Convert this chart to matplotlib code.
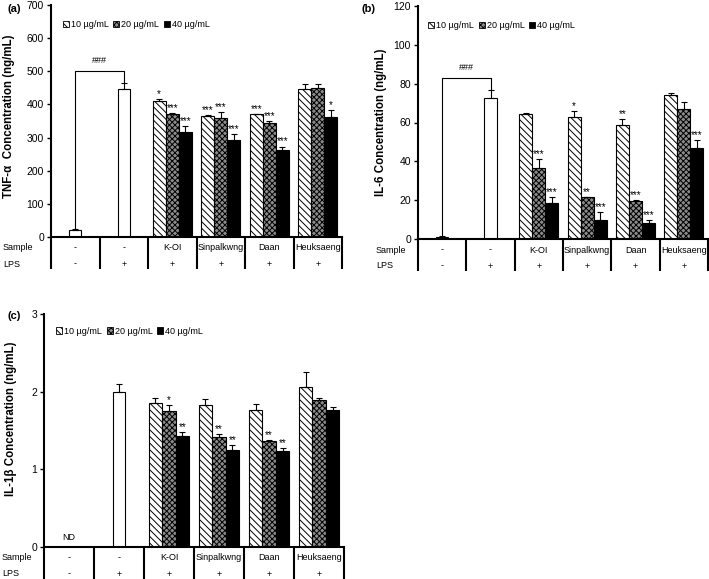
import numpy as np
import matplotlib.pyplot as plt
import matplotlib.transforms as mtransforms
from matplotlib.patches import Patch

plt.rcParams['font.family'] = ['Liberation Sans', 'DejaVu Sans']
plt.rcParams['hatch.linewidth'] = 0.7

# ---- data ----
samples = ['-', '-', 'K-OI', 'Sinpalkwng', 'Daan', 'Heuksaeng']
lps = ['-', '+', '+', '+', '+', '+']
conc_labels = ['10 µg/mL', '20 µg/mL', '40 µg/mL']

# (a) TNF-a : control, LPS only
tnf_ctrl = [20, 448]
tnf_ctrl_err = [5, 16]
tnf_10 = [410, 364, 370, 447]
tnf_10_err = [5, 3, 2, 15]
tnf_20 = [370, 358, 345, 451]
tnf_20_err = [3, 18, 6, 11]
tnf_40 = [318, 294, 264, 362]
tnf_40_err = [18, 16, 9, 22]
tnf_sig_10 = ['*', '***', '***', '']
tnf_sig_20 = ['***', '***', '***', '']
tnf_sig_40 = ['***', '***', '***', '*']

# (b) IL-6
il6_ctrl = [1.2, 72.5]
il6_ctrl_err = [0.4, 4]
il6_10 = [64.4, 62.9, 58.8, 74.4]
il6_10_err = [0.7, 3, 3, 1]
il6_20 = [36.8, 21.5, 19.8, 66.9]
il6_20_err = [4.4, 0, 0.5, 3.6]
il6_40 = [18.6, 10, 8.2, 47.1]
il6_40_err = [3.2, 3.7, 1.4, 3.9]
il6_sig_10 = ['', '*', '**', '']
il6_sig_20 = ['***', '**', '***', '']
il6_sig_40 = ['***', '***', '***', '***']

# (c) IL-1b (control not detected)
il1b_ctrl = [np.nan, 1.99]
il1b_ctrl_err = [0, 0.11]
il1b_10 = [1.86, 1.83, 1.77, 2.06]
il1b_10_err = [0.06, 0.07, 0.07, 0.19]
il1b_20 = [1.75, 1.41, 1.36, 1.89]
il1b_20_err = [0.08, 0.05, 0.02, 0.03]
il1b_40 = [1.43, 1.25, 1.23, 1.77]
il1b_40_err = [0.05, 0.06, 0.04, 0.03]
il1b_sig_10 = ['', '', '', '']
il1b_sig_20 = ['*', '**', '**', '']
il1b_sig_40 = ['**', '**', '**', '']

W, H = 709, 579
fig = plt.figure(figsize=(W / 100, H / 100), dpi=100)

styles = [dict(facecolor='white', hatch='\\\\\\\\\\'),
          dict(facecolor='#8c8c8c', hatch='xxxxxx'),
          dict(facecolor='black', hatch=None)]


def add_ax(left, top, right, bottom):
    return fig.add_axes([left / W, 1 - bottom / H, (right - left) / W, (bottom - top) / H])


def panel(ax, hpx, wpx, ctrl, ctrl_err, vals, errs, sigs, ymax, ystep, ylabel,
          ylab_dx, ylab_y=0.5, bracket=None, leg_xy=(0.04, 0.93)):
    ekw = dict(elinewidth=0.8, capthick=0.8, ecolor='k')
    xc = np.array([0.5, 1.5])
    ctrl = np.array(ctrl, dtype=float)
    ok = ~np.isnan(ctrl)
    ax.bar(xc[ok], ctrl[ok], 0.25, color='white', edgecolor='k', lw=0.8,
           yerr=[np.zeros(ok.sum()), np.array(ctrl_err)[ok]], capsize=2, error_kw=ekw)
    w = 0.27
    xs = np.arange(2, 6) + 0.5
    for k in range(3):
        xp = xs + (k - 1) * w
        ax.bar(xp, vals[k], w, edgecolor='k', lw=0.8,
               yerr=[np.zeros(4), errs[k]], capsize=2, error_kw=ekw, **styles[k])
        for x, v, e, s in zip(xp, vals[k], errs[k], sigs[k]):
            if s:
                ax.text(x, v + e, s, ha='center', va='bottom', fontsize=7)
    if bracket is not None:
        ax.plot([0.5, 0.5, 1.5, 1.5],
                [ctrl[0] + ctrl_err[0], bracket, bracket, ctrl[1] + ctrl_err[1]],
                color='k', lw=0.8)
        ax.text(1.0, bracket + ymax * 0.025, '###', ha='center', va='bottom', fontsize=6.5)

    ax.set_xlim(0, 6)
    ax.set_ylim(0, ymax)
    ax.set_xticks([])
    ax.set_yticks(np.arange(0, ymax + ystep / 2, ystep))
    ax.tick_params(axis='y', direction='out', length=3, width=1, labelsize=7.5, pad=2)
    for s in ['top', 'right']:
        ax.spines[s].set_visible(False)
    for s in ['left', 'bottom']:
        ax.spines[s].set_linewidth(1.5)
    ax.set_ylabel(ylabel, fontweight='bold', fontsize=8.3)
    ax.yaxis.set_label_coords(-ylab_dx / wpx, ylab_y)

    # table under the axis
    tr = mtransforms.blended_transform_factory(ax.transData, ax.transAxes)
    for i in range(7):
        ax.plot([i, i], [0, -32 / hpx], transform=tr, clip_on=False, color='k',
                lw=1.5, solid_capstyle='butt')
    for i, (s, l) in enumerate(zip(samples, lps)):
        ax.text(i + 0.5, -11 / hpx, s, transform=tr, ha='center', va='center', fontsize=6.5)
        ax.text(i + 0.5, -27 / hpx, l, transform=tr, ha='center', va='center', fontsize=6.5)
    if np.isnan(ctrl[0]):
        ax.text(0.5, 9 / hpx, 'ND', transform=tr, ha='center', va='center', fontsize=6.5)

    handles = [Patch(edgecolor='k', lw=0.6, **st) for st in styles]
    ax.legend(handles, conc_labels, ncol=3, frameon=False, loc='upper left',
              bbox_to_anchor=leg_xy, fontsize=6.5, handlelength=0.7, handleheight=0.7,
              handletextpad=0.2, columnspacing=0.5, borderaxespad=0, borderpad=0)


# (a)
ax1 = add_ax(51, 5, 342, 237)
panel(ax1, 232, 291, tnf_ctrl, tnf_ctrl_err, [tnf_10, tnf_20, tnf_40],
      [tnf_10_err, tnf_20_err, tnf_40_err], [tnf_sig_10, tnf_sig_20, tnf_sig_40],
      700, 100, 'TNF-α  Concentration (ng/mL)', 36, ylab_y=0.52, bracket=500,
      leg_xy=(0.04, 0.935))
# (b)
ax2 = add_ax(418, 6, 708, 239)
panel(ax2, 233, 290, il6_ctrl, il6_ctrl_err, [il6_10, il6_20, il6_40],
      [il6_10_err, il6_20_err, il6_40_err], [il6_sig_10, il6_sig_20, il6_sig_40],
      120, 20, 'IL-6 Concentration (ng/mL)', 31, ylab_y=0.5, bracket=83,
      leg_xy=(0.035, 0.935))
# (c)
ax3 = add_ax(44, 314, 344, 547)
panel(ax3, 233, 300, il1b_ctrl, il1b_ctrl_err, [il1b_10, il1b_20, il1b_40],
      [il1b_10_err, il1b_20_err, il1b_40_err], [il1b_sig_10, il1b_sig_20, il1b_sig_40],
      3, 1, 'IL-1β Concentration (ng/mL)', 27, ylab_y=0.55, leg_xy=(0.04, 0.945))

# panel letters and table row labels
for lab, x, y in [('(a)', 8, 9), ('(b)', 362, 9), ('(c)', 7, 316)]:
    fig.text(x / W, 1 - y / H, lab, fontsize=8, fontweight='bold', va='center')
for x, y0 in [(3, 237), (376, 239), (2, 547)]:
    fig.text(x / W, 1 - (y0 + 11) / H, 'Sample', fontsize=6.5, va='center')
    fig.text(x / W, 1 - (y0 + 27) / H, 'LPS', fontsize=6.5, va='center')

fig.savefig('out.png', dpi=100)
